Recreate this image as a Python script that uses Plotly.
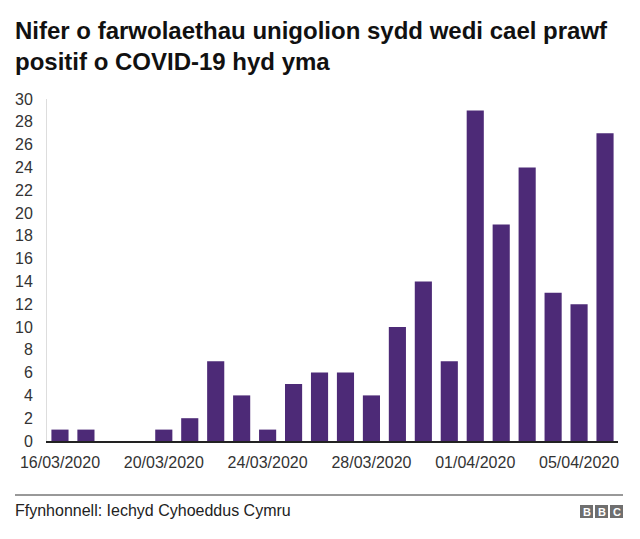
import plotly.graph_objects as go

dates = ["16/03/2020", "17/03/2020", "18/03/2020", "19/03/2020", "20/03/2020", "21/03/2020",
         "22/03/2020", "23/03/2020", "24/03/2020", "25/03/2020", "26/03/2020", "27/03/2020",
         "28/03/2020", "29/03/2020", "30/03/2020", "31/03/2020", "01/04/2020", "02/04/2020",
         "03/04/2020", "04/04/2020", "05/04/2020", "06/04/2020"]
deaths = [1, 1, 0, 0, 1, 2, 7, 4, 1, 5, 6, 6, 4, 10, 14, 7, 29, 19, 24, 13, 12, 27]
x_tick_labels = ["16/03/2020", "20/03/2020", "24/03/2020", "28/03/2020", "01/04/2020", "05/04/2020"]
y_ticks = list(range(0, 31, 2))

FONT = "Liberation Sans, Arial, Helvetica, sans-serif"

# page is offset by the 8px body margin; plot area spans page x 47..618, y 99..441
PL, PR, PT, PB = 47, 618, 99, 441
PW, PH = PR - PL, PB - PT


def px(x):
    return (x - PL) / PW


def py(y):
    return (PB - y) / PH


fig = go.Figure(go.Bar(
    x=dates, y=deaths,
    marker=dict(color="#4d2a77", line=dict(width=0)),
    width=0.66,
))

fig.update_layout(
    width=624, height=523,
    paper_bgcolor="white", plot_bgcolor="white",
    margin=dict(l=PL - 8, r=8 + 624 - PR, t=PT - 8, b=8 + 523 - PB),
    showlegend=False,
    font=dict(family=FONT, color="#333333", size=16),
)
fig.update_xaxes(
    type="category", automargin=False,
    tickvals=x_tick_labels, ticktext=x_tick_labels,
    showgrid=False, showline=True, linecolor="#222222", linewidth=2,
    ticks="", ticklabelstandoff=6,
    tickfont=dict(size=16, color="#333333"),
    fixedrange=True,
)
fig.update_yaxes(
    range=[0, 30], tickvals=y_ticks, automargin=False,
    showgrid=False, zeroline=False,
    showline=True, linecolor="#dddddd", linewidth=1,
    ticks="", ticklabelstandoff=10,
    tickfont=dict(size=16, color="#333333"),
    fixedrange=True,
)

# Title
fig.add_annotation(
    text="<b>Nifer o farwolaethau unigolion sydd wedi cael prawf<br>positif o COVID-19 hyd yma</b>",
    xref="paper", yref="paper", x=px(13), y=py(15),
    xanchor="left", yanchor="top", align="left", showarrow=False,
    font=dict(family=FONT, size=24, color="#111111"),
)

# Footer line
fig.add_shape(type="line", xref="paper", yref="paper",
              x0=px(15), x1=px(623), y0=py(495), y1=py(495),
              line=dict(color="#333333", width=1))
fig.add_annotation(
    text="Ffynhonnell: Iechyd Cyhoeddus Cymru",
    xref="paper", yref="paper", x=px(13), y=py(510),
    xanchor="left", yanchor="middle", showarrow=False,
    font=dict(family=FONT, size=16, color="#222222"),
)

# BBC logo
for i, letter in enumerate("BBC"):
    x0 = 580 + i * 15
    fig.add_shape(type="rect", xref="paper", yref="paper",
                  x0=px(x0), x1=px(x0 + 13),
                  y0=py(518), y1=py(505),
                  fillcolor="#6f6f6f", line=dict(width=0))
    fig.add_annotation(text="<b>%s</b>" % letter, xref="paper", yref="paper",
                       x=px(x0 + 6.5), y=py(511.5),
                       xanchor="center", yanchor="middle", showarrow=False,
                       font=dict(family=FONT, size=11, color="white"))

fig.write_html("out.html")
